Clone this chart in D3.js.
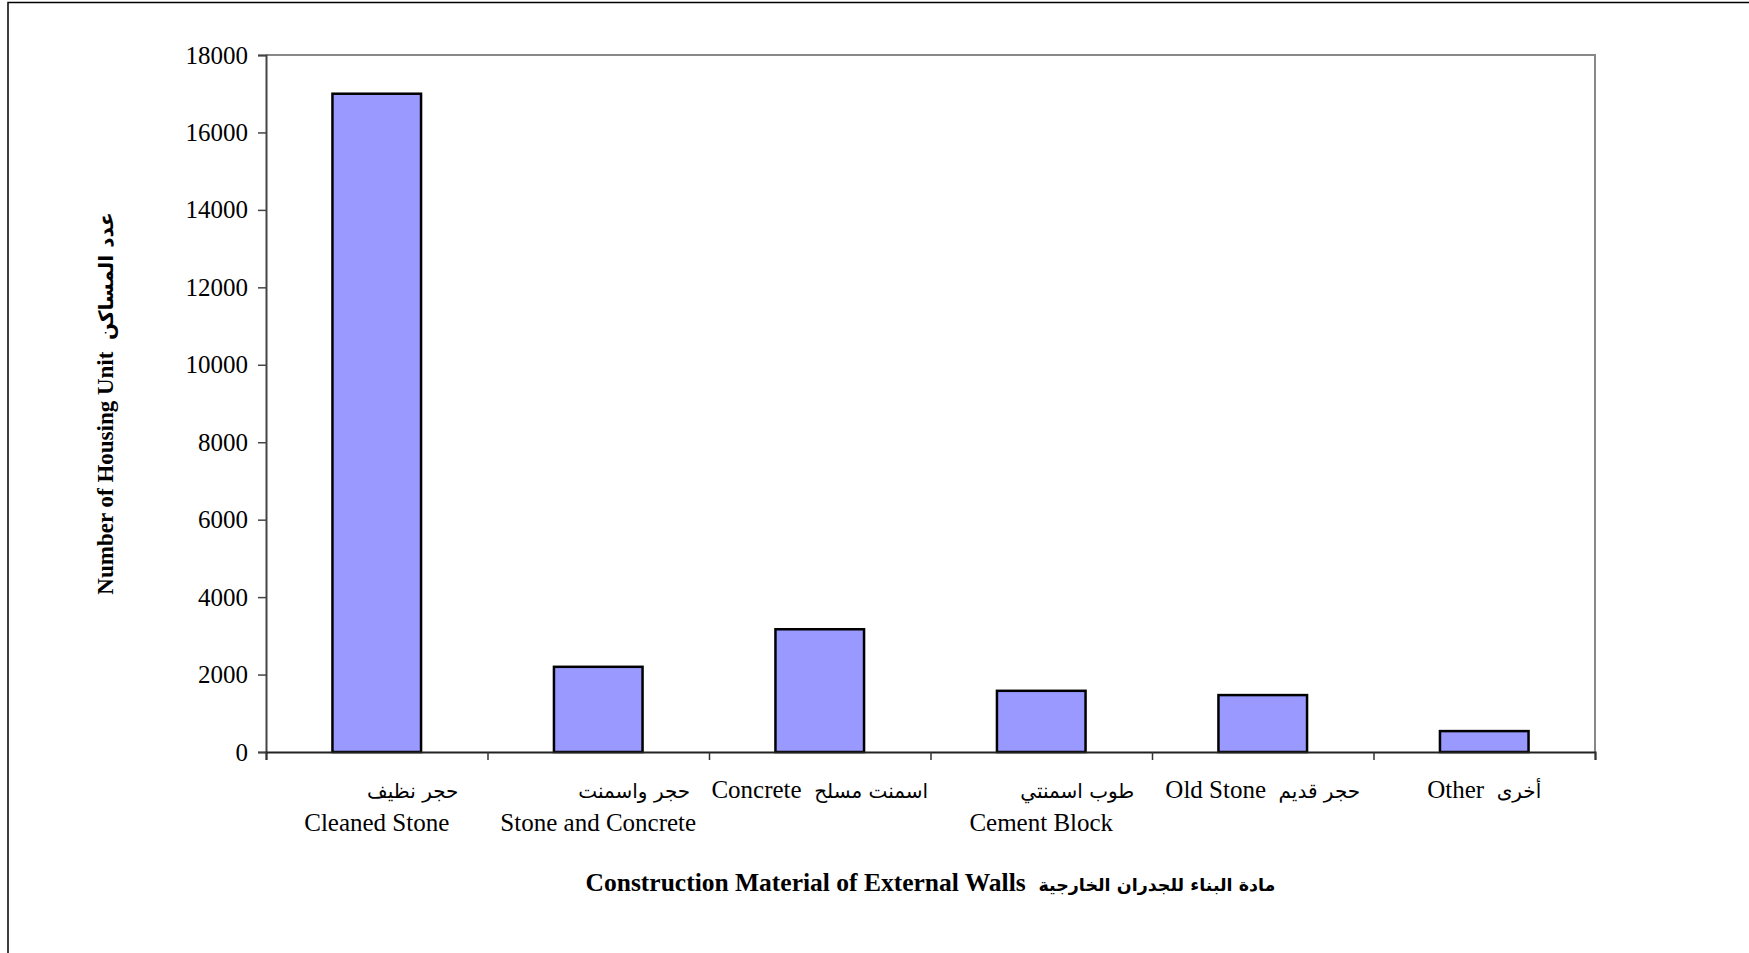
<!DOCTYPE html>
<html>
<head>
	<meta charset="utf-8">
	<title>Construction Material of External Walls</title>
	<style>
	body { margin: 0; background: #fff; }
	text { font-family: "Liberation Serif", "Times New Roman", serif; fill: #000; }
	.ar { font-family: "DejaVu Sans", sans-serif; }
	</style>
</head>
<body>
	<script src="https://cdn.jsdelivr.net/npm/d3@7"></script>
	<script>
	// DATA
	var namesEn = ["Cleaned Stone", "Stone and Concrete", "Concrete", "Cement Block", "Old Stone", "Other"];
	var namesAr = ["حجر نظيف", "حجر واسمنت", "اسمنت مسلح", "طوب اسمنتي", "حجر قديم", "أخرى"];
	var twoLines = [true, true, false, true, false, false];
	var units = [17000, 2200, 3170, 1580, 1470, 540];
	var yTicks = [0, 2000, 4000, 6000, 8000, 10000, 12000, 14000, 16000, 18000];

	var W = 1749, H = 953;
	var margin = {top: 55, right: 154, bottom: 201, left: 266};
	var width = W - margin.left - margin.right;
	var height = H - margin.top - margin.bottom;

	var svg = d3.select("body").append("svg")
		.attr("width", W)
		.attr("height", H);

	// outer frame (only top and left edges show)
	svg.append("path")
		.attr("d", "M8," + H + "V2.5H" + W)
		.attr("fill", "none")
		.attr("stroke", "#000")
		.attr("stroke-width", 1.5);

	var g = svg.append("g")
		.attr("transform", "translate(" + margin.left + "," + margin.top + ")");

	var x = d3.scaleBand()
		.domain(namesEn)
		.range([0, width])
		.padding(0);
	var y = d3.scaleLinear()
		.domain([0, 18000])
		.range([height, 0]);
	// category boundaries for the x ticks
	var xb = d3.scaleLinear()
		.domain([0, namesEn.length])
		.range([0, width]);

	// plot frame top/right
	g.append("path")
		.attr("d", "M0,0H" + width + "V" + height)
		.attr("fill", "none")
		.attr("stroke", "#888")
		.attr("stroke-width", 2);

	// bars
	var bw = x.bandwidth() * 0.4;
	g.selectAll("rect.bar")
		.data(units)
		.enter().append("rect")
		.attr("class", "bar")
		.attr("x", function(d, i) { return x(namesEn[i]) + (x.bandwidth() - bw) / 2; })
		.attr("y", function(d) { return y(d); })
		.attr("width", bw)
		.attr("height", function(d) { return height - y(d); })
		.attr("fill", "#9999ff")
		.attr("stroke", "#000")
		.attr("stroke-width", 2.5);

	// y axis
	var yAxis = g.append("g")
		.call(d3.axisLeft(y).tickValues(yTicks).tickSize(8).tickPadding(10).tickFormat(d3.format("d")));
	yAxis.select(".domain").attr("stroke", "#444").attr("stroke-width", 2);
	yAxis.selectAll(".tick line").attr("stroke", "#444").attr("stroke-width", 1.5);
	yAxis.selectAll(".tick text")
		.style("font-family", "'Liberation Serif', serif")
		.style("font-size", "25px")
		.attr("fill", "#000");

	// x axis (ticks between categories)
	var xAxis = g.append("g")
		.attr("transform", "translate(0," + height + ")")
		.call(d3.axisBottom(xb).ticks(namesEn.length).tickSize(8).tickFormat(""));
	xAxis.select(".domain").attr("stroke", "#222").attr("stroke-width", 2);
	xAxis.selectAll(".tick line").attr("stroke", "#333").attr("stroke-width", 1.5);

	// category labels
	var labels = g.selectAll("g.lab")
		.data(namesEn)
		.enter().append("g")
		.attr("class", "lab")
		.attr("transform", function(d) { return "translate(" + (x(d) + x.bandwidth() / 2) + "," + height + ")"; });

	var line1 = labels.append("text")
		.attr("y", 46)
		.attr("dx", function(d, i) { return twoLines[i] ? 36 : 0; })
		.attr("text-anchor", "middle")
		.style("font-size", "25px");

	line1.filter(function(d, i) { return !twoLines[i]; })
		.append("tspan")
		.text(function(d) { return d + "\u00a0\u00a0"; });
	line1.append("tspan")
		.attr("class", "ar")
		.style("font-size", "20px")
		.text(function(d, i) { return namesAr[i]; });

	labels.filter(function(d, i) { return twoLines[i]; })
		.append("text")
		.attr("y", 79)
		.attr("text-anchor", "middle")
		.style("font-size", "25px")
		.text(function(d) { return d; });

	// axis titles
	var xt = svg.append("text")
		.attr("x", margin.left + width / 2)
		.attr("y", 891)
		.attr("text-anchor", "middle")
		.style("font-size", "25.5px")
		.style("font-weight", "bold");
	xt.append("tspan").text("Construction Material of External Walls\u00a0\u00a0");
	xt.append("tspan").attr("class", "ar").style("font-size", "17.5px").text("مادة البناء للجدران الخارجية");

	var yt = svg.append("text")
		.attr("transform", "translate(113," + (margin.top + height / 2) + ") rotate(-90)")
		.attr("text-anchor", "middle")
		.style("font-size", "23px")
		.style("font-weight", "bold");
	yt.append("tspan").text("Number of Housing Unit\u00a0\u00a0");
	yt.append("tspan").attr("class", "ar").style("font-size", "20px").text("عدد المساكن");
	</script>
</body>
</html>
